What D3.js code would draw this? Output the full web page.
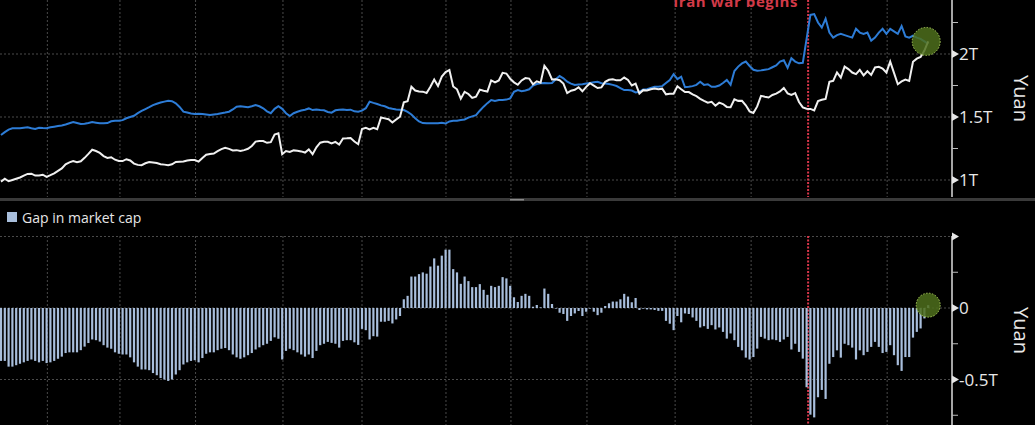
<html>
<head>
<script src="https://cdn.jsdelivr.net/npm/d3@7"></script>
<style>
  body { margin: 0; background: #000; }
  svg { display: block; font-family: "Open Sans", sans-serif; }
</style>
</head>
<body>
<svg width="1035" height="425"></svg>
<script>
// daily values, trillion yuan
var blue = [1.357,1.38,1.40,1.41,1.41,1.41,1.415,1.418,1.41,1.405,1.415,1.412,1.41,1.418,1.423,1.428,1.432,1.44,1.45,1.46,
  1.452,1.444,1.446,1.452,1.46,1.455,1.45,1.45,1.452,1.466,1.471,1.471,1.475,1.49,1.50,1.51,1.53,1.548,1.563,1.578,
  1.594,1.605,1.615,1.622,1.628,1.625,1.608,1.58,1.542,1.535,1.528,1.524,1.526,1.524,1.52,1.516,1.52,1.524,1.53,1.535,
  1.542,1.56,1.582,1.585,1.582,1.578,1.585,1.595,1.585,1.569,1.545,1.53,1.565,1.585,1.565,1.53,1.508,1.53,1.542,1.552,
  1.558,1.568,1.555,1.56,1.556,1.553,1.54,1.534,1.553,1.558,1.56,1.556,1.558,1.545,1.542,1.55,1.57,1.622,1.612,1.603,
  1.592,1.585,1.572,1.565,1.56,1.558,1.555,1.54,1.52,1.49,1.465,1.452,1.45,1.45,1.45,1.45,1.455,1.448,1.465,1.47,
  1.471,1.476,1.48,1.495,1.505,1.515,1.55,1.582,1.61,1.635,1.628,1.635,1.635,1.638,1.648,1.70,1.714,1.705,1.71,1.72,
  1.75,1.762,1.767,1.77,1.768,1.77,1.80,1.825,1.807,1.78,1.765,1.754,1.757,1.76,1.765,1.77,1.775,1.78,1.768,1.765,
  1.762,1.755,1.746,1.73,1.714,1.714,1.71,1.695,1.70,1.718,1.72,1.73,1.74,1.74,1.745,1.77,1.794,1.84,1.80,1.82,
  1.736,1.74,1.745,1.755,1.78,1.755,1.76,1.74,1.74,1.75,1.77,1.794,1.755,1.865,1.90,1.925,1.94,1.905,1.875,1.868,
  1.87,1.875,1.88,1.895,1.91,1.94,1.95,1.89,1.966,1.94,1.926,1.93,2.12,2.31,2.317,2.25,2.21,2.28,2.17,2.13,
  2.15,2.16,2.15,2.14,2.13,2.20,2.17,2.16,2.17,2.106,2.13,2.17,2.20,2.16,2.20,2.18,2.16,2.222,2.14,2.13,
  2.145,2.13,2.12,2.10,2.08];

var white = [0.987,1.01,0.99,1.00,1.01,1.02,1.035,1.048,1.05,1.035,1.035,1.042,1.025,1.038,1.053,1.073,1.092,1.125,1.14,1.15,
  1.142,1.149,1.176,1.207,1.24,1.23,1.215,1.19,1.175,1.181,1.161,1.151,1.15,1.165,1.155,1.13,1.12,1.118,1.133,1.143,
  1.139,1.135,1.125,1.122,1.118,1.125,1.143,1.145,1.147,1.155,1.158,1.159,1.146,1.174,1.20,1.206,1.21,1.229,1.245,1.255,
  1.247,1.235,1.237,1.23,1.237,1.248,1.27,1.305,1.31,1.309,1.295,1.30,1.36,1.37,1.205,1.23,1.223,1.235,1.232,1.227,
  1.218,1.243,1.205,1.26,1.296,1.303,1.303,1.29,1.303,1.281,1.33,1.331,1.333,1.305,1.284,1.404,1.415,1.402,1.415,1.403,
  1.496,1.489,1.482,1.457,1.48,1.502,1.616,1.625,1.74,1.71,1.702,1.701,1.69,1.74,1.797,1.746,1.821,1.856,1.873,1.742,
  1.72,1.645,1.70,1.683,1.651,1.661,1.717,1.709,1.702,1.79,1.774,1.79,1.851,1.845,1.803,1.775,1.756,1.79,1.809,1.805,
  1.759,1.783,1.772,1.906,1.867,1.798,1.80,1.792,1.765,1.69,1.709,1.716,1.736,1.704,1.739,1.768,1.749,1.73,1.735,1.779,
  1.795,1.80,1.791,1.791,1.813,1.794,1.75,1.765,1.686,1.713,1.71,1.72,1.726,1.72,1.725,1.68,1.684,1.685,1.744,1.72,
  1.698,1.698,1.679,1.665,1.644,1.628,1.614,1.62,1.59,1.614,1.603,1.58,1.577,1.64,1.628,1.629,1.593,1.545,1.532,1.584,
  1.668,1.661,1.655,1.675,1.685,1.703,1.73,1.688,1.676,1.69,1.619,1.576,1.566,1.564,1.552,1.626,1.637,1.644,1.78,1.787,
  1.854,1.813,1.90,1.88,1.853,1.84,1.874,1.83,1.863,1.834,1.893,1.898,1.885,1.853,1.94,1.85,1.76,1.782,1.797,1.787,
  1.938,1.963,1.977,2.027,2.10];

var gap = [-0.37,-0.37,-0.41,-0.41,-0.40,-0.39,-0.38,-0.37,-0.36,-0.37,-0.38,-0.37,-0.385,-0.38,-0.37,-0.355,-0.34,-0.315,-0.31,-0.31,
  -0.31,-0.295,-0.27,-0.245,-0.22,-0.225,-0.235,-0.26,-0.277,-0.285,-0.31,-0.32,-0.325,-0.325,-0.345,-0.38,-0.41,-0.43,-0.43,-0.435,
  -0.455,-0.47,-0.49,-0.50,-0.51,-0.50,-0.465,-0.435,-0.395,-0.38,-0.37,-0.365,-0.38,-0.35,-0.32,-0.31,-0.31,-0.295,-0.285,-0.28,
  -0.295,-0.325,-0.345,-0.355,-0.345,-0.33,-0.315,-0.29,-0.275,-0.26,-0.25,-0.23,-0.205,-0.215,-0.36,-0.30,-0.285,-0.295,-0.31,-0.325,
  -0.34,-0.325,-0.35,-0.30,-0.26,-0.25,-0.237,-0.244,-0.25,-0.277,-0.23,-0.225,-0.225,-0.24,-0.258,-0.146,-0.155,-0.22,-0.197,-0.20,
  -0.096,-0.096,-0.09,-0.108,-0.08,-0.056,0.061,0.085,0.22,0.22,0.237,0.249,0.24,0.29,0.347,0.296,0.366,0.408,0.408,0.272,
  0.249,0.169,0.22,0.188,0.146,0.146,0.167,0.127,0.092,0.155,0.146,0.155,0.216,0.207,0.155,0.075,0.042,0.085,0.099,0.085,
  0.009,0.021,0.005,0.136,0.099,0.028,0.0,-0.033,-0.042,-0.09,-0.056,-0.038,-0.021,-0.056,-0.026,-0.002,-0.026,-0.05,-0.033,0.014,
  0.033,0.045,0.045,0.061,0.099,0.08,0.04,0.07,-0.014,-0.005,-0.01,-0.01,-0.014,-0.02,-0.02,-0.09,-0.11,-0.155,-0.056,-0.10,
  -0.038,-0.042,-0.066,-0.09,-0.136,-0.127,-0.146,-0.12,-0.15,-0.136,-0.167,-0.214,-0.178,-0.225,-0.272,-0.296,-0.347,-0.36,-0.343,-0.284,
  -0.202,-0.214,-0.225,-0.22,-0.225,-0.237,-0.22,-0.202,-0.29,-0.25,-0.307,-0.354,-0.554,-0.746,-0.765,-0.624,-0.573,-0.636,-0.39,-0.343,
  -0.296,-0.347,-0.25,-0.26,-0.277,-0.36,-0.296,-0.33,-0.307,-0.272,-0.237,-0.272,-0.315,-0.307,-0.26,-0.33,-0.40,-0.44,-0.343,-0.343,
  -0.207,-0.167,-0.143,-0.073,0.02];

// month gridlines (position in trading-day index)
var gridIdx = [12.2, 31.3, 51.2, 74.2, 95, 117.1, 134.2, 154.2, 177.4, 197.4, 233.2];
var eventIdx = 212.4;
var eventLabel = "Iran war begins";

var topMajor = [1, 1.5, 2], topLabels = ["1T", "1.5T", "2T"], topMinor = [1.25, 1.75, 2.25];
var botMajor = [0.5, 0, -0.5], botLabels = ["", "0", "-0.5T"], botMinor = [0.25, -0.25, -0.75];

var svg = d3.select("svg");
var N = blue.length;
var axisX = 952;
var topH = 197, botY0 = 236, botY1 = 425;

var x = d3.scaleLinear().domain([0, N - 1]).range([1, 928.2]);
var yT = d3.scaleLinear().domain([1, 2]).range([180, 54]);
var yB = d3.scaleLinear().domain([-0.5, 0.5]).range([379.5, 236.5]);

var gridCol = "#4a4a4a";

function panelGrid(y, major, y0, y1) {
  var g = svg.append("g");
  g.selectAll(".h").data(major).enter().append("line")
    .attr("x1", 0).attr("x2", axisX)
    .attr("y1", function(d) { return y(d); }).attr("y2", function(d) { return y(d); })
    .attr("stroke", gridCol).attr("stroke-dasharray", "2,2");
  g.selectAll(".v").data(gridIdx).enter().append("line")
    .attr("x1", function(d) { return x(d); }).attr("x2", function(d) { return x(d); })
    .attr("y1", y0).attr("y2", y1)
    .attr("stroke", gridCol).attr("stroke-dasharray", "2,2");
}

function panelAxis(y, major, labels, minor, y0, y1, title) {
  var g = svg.append("g");
  g.append("line").attr("x1", axisX).attr("x2", axisX).attr("y1", y0).attr("y2", y1)
    .attr("stroke", "#dcdcdc").attr("stroke-width", 1.5);
  g.selectAll(".tri").data(major).enter().append("path")
    .attr("d", function(d) { var yy = y(d); return "M" + axisX + "," + (yy - 4) + "L" + (axisX + 7) + "," + yy + "L" + axisX + "," + (yy + 4) + "Z"; })
    .attr("fill", "#e6e6e6");
  g.selectAll(".mn").data(minor).enter().append("line")
    .attr("x1", axisX).attr("x2", axisX + 6)
    .attr("y1", function(d) { return y(d); }).attr("y2", function(d) { return y(d); })
    .attr("stroke", "#bbb");
  g.selectAll(".lb").data(major).enter().append("text")
    .attr("x", axisX + 7).attr("y", function(d) { return y(d) + 6; })
    .attr("fill", "#e8e8e8").attr("font-size", 17)
    .text(function(d, i) { return labels[i]; });
  var cy = (y0 + y1) / 2;
  g.append("text").attr("transform", "translate(1014," + cy + ") rotate(90)")
    .attr("text-anchor", "middle").attr("fill", "#e8e8e8").attr("font-size", 20)
    .text(title);
}

// clip for top panel
svg.append("defs").append("clipPath").attr("id", "clipTop")
  .append("rect").attr("x", 0).attr("y", 0).attr("width", axisX).attr("height", topH);

panelGrid(yT, topMajor, 0, topH);
panelGrid(yB, botMajor, botY0, botY1);

// event line
[[0, topH], [botY0, botY1]].forEach(function(r) {
  svg.append("line").attr("x1", x(eventIdx)).attr("x2", x(eventIdx))
    .attr("y1", r[0]).attr("y2", r[1])
    .attr("stroke", "#d8364a").attr("stroke-width", 2).attr("stroke-dasharray", "2,1.5");
});
svg.append("text").attr("x", x(eventIdx) - 10).attr("y", 7)
  .attr("text-anchor", "end").attr("fill", "#d23a48")
  .attr("font-size", 15).attr("font-weight", "bold").attr("letter-spacing", 0.6)
  .text(eventLabel);

// lines
var line = d3.line().x(function(d, i) { return x(i); }).y(function(d) { return yT(d); });
var lg = svg.append("g").attr("clip-path", "url(#clipTop)");
lg.append("path").datum(blue).attr("d", line)
  .attr("fill", "none").attr("stroke", "#2d7cd6").attr("stroke-width", 2);
lg.append("path").datum(white).attr("d", line)
  .attr("fill", "none").attr("stroke", "#f0f0f0").attr("stroke-width", 2);

// bars
svg.append("g").selectAll("rect").data(gap).enter().append("rect")
  .attr("x", function(d, i) { return x(i) - 1.1; })
  .attr("width", 2.2)
  .attr("y", function(d) { return Math.min(yB(d), yB(0)); })
  .attr("height", function(d) { return Math.max(0.6, Math.abs(yB(d) - yB(0))); })
  .attr("fill", "#a8bedc");

// last-value markers
function marker(cx, cy, r) {
  svg.append("circle").attr("cx", cx).attr("cy", cy).attr("r", r)
    .attr("fill", "rgb(78,110,28)").attr("fill-opacity", 0.85)
    .attr("stroke", "#a6c85a").attr("stroke-width", 1).attr("stroke-dasharray", "1.5,1.5");
}
marker(x(N - 1) - 2, yT(white[N - 1]), 14);
marker(x(N - 1), yB(gap[N - 1]), 12);

// axes
panelAxis(yT, topMajor, topLabels, topMinor, 0, topH, "Yuan");
panelAxis(yB, botMajor, botLabels, botMinor, botY0, botY1, "Yuan");

// panel separator
svg.append("rect").attr("x", 0).attr("y", 198).attr("width", 1035).attr("height", 3).attr("fill", "#3a3a3a");
svg.append("rect").attr("x", 510).attr("y", 199).attr("width", 14).attr("height", 1.5).attr("fill", "#8a8a8a");

// legend
svg.append("rect").attr("x", 7).attr("y", 212).attr("width", 10).attr("height", 10).attr("fill", "#a8bedc");
svg.append("text").attr("x", 22).attr("y", 222.5).attr("fill", "#e6e6e6").attr("font-size", 14)
  .text("Gap in market cap");
</script>
</body>
</html>
